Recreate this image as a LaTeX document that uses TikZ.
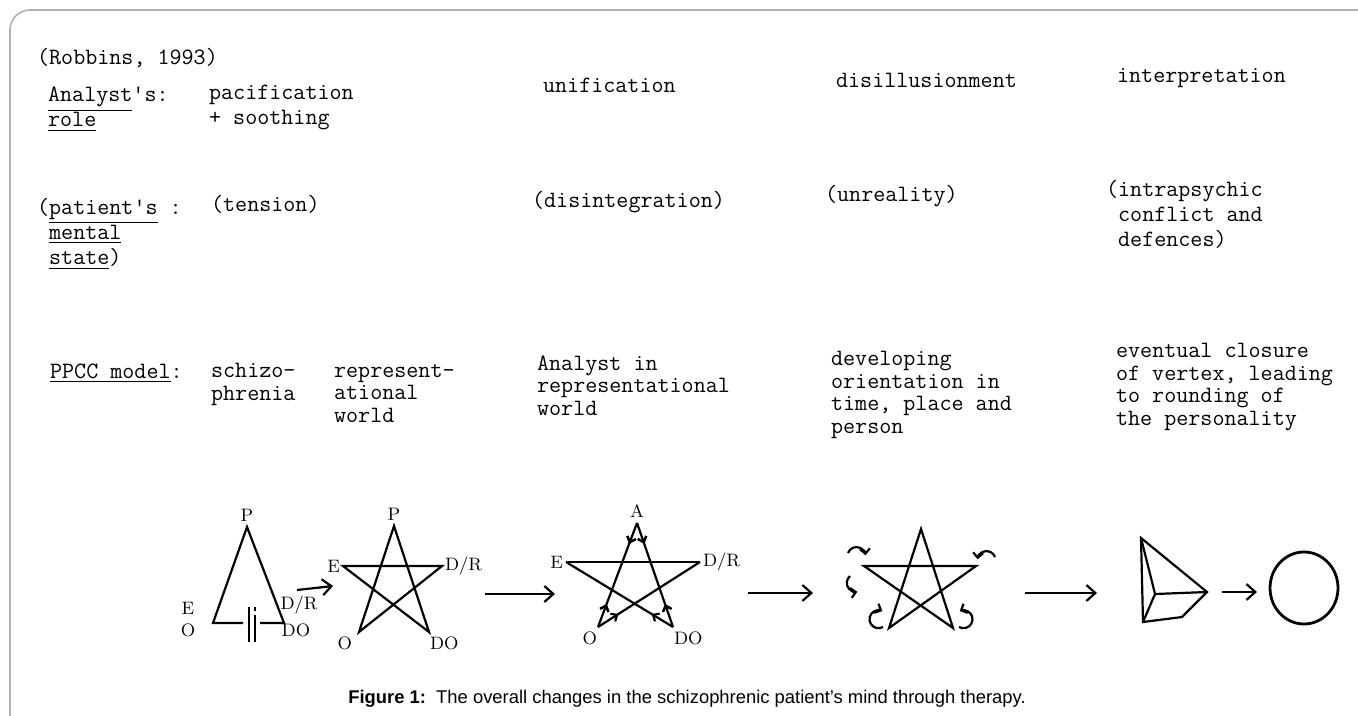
\documentclass[tikz,border=0pt]{standalone}
\usepackage{fontspec}
\usepackage{tikz}
\usetikzlibrary{positioning,arrows.meta,decorations.markings}
\newfontfamily\capfont{Liberation Sans}

\begin{document}
\begin{tikzpicture}[x=0.5pt,y=-0.5pt,line width=1.1pt,node distance=2pt,
		>={Straight Barb[length=4.5pt,width=8pt]},
		smalltip/.tip={Straight Barb[length=2.5pt,width=4.5pt]},
		txt/.style={anchor=base west,inner sep=0pt,align=left,font=\ttfamily\fontsize{11.7}{12.6}\selectfont},
		txtb/.style={txt,font=\ttfamily\fontsize{11.7}{11.2}\selectfont},
		vlabel/.style={inner sep=0pt,font=\fontsize{9}{9}\selectfont},
		inward/.style={postaction={decorate},decoration={markings,
				mark=at position #1 with {\arrow{smalltip}}}},
		outward/.style={postaction={decorate},decoration={markings,
				mark=at position #1 with {\arrowreversed{smalltip}}}},
		curl/.style={->,>={Straight Barb[length=2.5pt,width=5pt]}},
		frame/.style={gray!60,line width=0.8pt,rounded corners=10}]
		\useasboundingbox (0,0) rectangle (1358,716);
		\draw[frame] (1358,10) -- (10,10) -- (10,716);
		
		% multi-line nodes sit on the baseline of their last line
		\node[txt] (Robbins) at (36,65) {(Robbins, 1993)};
		\node[txt] (Analyst) at (47,127) {\underline{Analyst}'s:\\\underline{role}};
		\node[txt] (Pacification) at (208,125) {pacification\\+ soothing};
		\node[txt] (Unification) at (542,93) {unification};
		\node[txt] (Disillusion) at (835,88) {disillusionment};
		\node[txt] (Interpret) at (1116,83) {interpretation};
		
		\node[txt] (Patient) at (36,265) {(\underline{patient's} :\\\hphantom{(}\underline{mental}\\\hphantom{(}\underline{state})};
		\node[txt] (Tension) at (210,212) {(tension)};
		\node[txt] (Disintegr) at (531,208) {(disintegration)};
		\node[txt] (Unreality) at (824,202) {(unreality)};
		\node[txt] (Intrapsy) at (1105,247) {(intrapsychic\\\hphantom{(}conflict and\\\hphantom{(}defences)};
		
		\node[txtb] (Ppcc) at (49,378) {\underline{PPCC model}:};
		\node[txtb] (Schizo) at (210,400) {schizo-\\phrenia};
		\node[txtb] (Represent) at (333,422) {represent-\\ational\\world};
		\node[txtb] (AnalystIn) at (536,415) {Analyst in\\representational\\world};
		\node[txtb] (Developing) at (830,433) {developing\\orientation in\\time, place and\\person};
		\node[txtb] (Eventual) at (1115,425) {eventual closure\\of vertex, leading\\to rounding of\\the personality};
		
		\coordinate (TriP) at (247,527);
		\coordinate (TriO) at (213,623);
		\coordinate (TriDO) at (284,623);
		\coordinate (GapL) at (243,623);
		\coordinate (GapR) at (260,623);
		\draw (GapL) -- (TriO) -- (TriP) -- (TriDO) -- (GapR);
		\draw (249,607) -- (249,642);
		\draw (255,607) -- (255,611) (255,615) -- (255,642);
		\node[vlabel] (TriPL) [above=of TriP] {P};
		\node[vlabel] (TriE) at (188,608) {E};
		\node[vlabel] (TriOL) at (188,630) {O};
		\node[vlabel] (TriDR) at (299,605) {D/R};
		\node[vlabel] (TriDOL) at (296,630) {DO};
		
		\coordinate (Arr1a) at (297,590);
		\coordinate (Arr1b) at (333,586);
		\draw[->] (Arr1a) -- (Arr1b);
		
		\coordinate (S2T) at (394,526);
		\coordinate (S2L) at (343,566);
		\coordinate (S2R) at (442,566);
		\coordinate (S2BL) at (359,632);
		\coordinate (S2BR) at (429,632);
		\draw (S2T) -- (S2BL) -- (S2R) -- (S2L) -- (S2BR) -- cycle;
		\node[vlabel] (S2P) [above=of S2T] {P};
		\node[vlabel] (S2E) [left=1pt of S2L] {E};
		\node[vlabel] (S2DR) [right=1pt of S2R] {D/R};
		\node[vlabel] (S2O) [below left=2pt and 3pt of S2BL] {O};
		\node[vlabel] (S2DO) [below right=2pt and 0pt of S2BR] {DO};
		
		\coordinate (Arr2a) at (485,594);
		\coordinate (Arr2b) at (555,594);
		\draw[->] (Arr2a) -- (Arr2b);
		
		\coordinate (S3T) at (637,523);
		\coordinate (S3L) at (566,562);
		\coordinate (S3R) at (700,562);
		\coordinate (S3BL) at (598,627);
		\coordinate (S3BR) at (673,627);
		\draw[inward=0.2,outward=0.78] (S3T) -- (S3BL);
		\draw[inward=0.2,outward=0.78] (S3T) -- (S3BR);
		\draw[inward=0.2] (S3BL) -- (S3R);
		\draw[inward=0.2] (S3BR) -- (S3L);
		\draw (S3L) -- (S3R);
		\node[vlabel] (S3A) [above=of S3T] {A};
		\node[vlabel] (S3E) [left=1pt of S3L] {E};
		\node[vlabel] (S3DR) [right=1pt of S3R] {D/R};
		\node[vlabel] (S3O) [below left=2pt and 0pt of S3BL] {O};
		\node[vlabel] (S3DO) [below right=2pt and 0pt of S3BR] {DO};
		
		\coordinate (Arr3a) at (748,593);
		\coordinate (Arr3b) at (813,593);
		\draw[->] (Arr3a) -- (Arr3b);
		
		\coordinate (S4T) at (921,529);
		\coordinate (S4L) at (864,566);
		\coordinate (S4R) at (976,566);
		\coordinate (S4BL) at (889,628);
		\coordinate (S4BR) at (953,628);
		\draw (S4T) -- (S4BL) -- (S4R) -- (S4L) -- (S4BR) -- cycle;
		\draw[curl] (848,553) arc[start angle=200,end angle=355,radius=9];
		\draw[curl] (850,576) arc[start angle=230,end angle=80,radius=9];
		\draw[curl] (883,627) arc[start angle=60,end angle=295,radius=9];
		\draw[curl] (959,627) arc[start angle=120,end angle=-115,radius=9];
		\draw[curl] (995,557) arc[start angle=-20,end angle=-175,radius=9];
		
		\coordinate (Arr4a) at (1025,593);
		\coordinate (Arr4b) at (1097,593);
		\draw[->] (Arr4a) -- (Arr4b);
		
		\coordinate (PyT) at (1141,538);
		\coordinate (PyR) at (1207,592);
		\coordinate (PyB) at (1182,617);
		\coordinate (PyL) at (1143,622);
		\coordinate (PyI) at (1155,594);
		\draw (PyT) -- (PyR) -- (PyB) -- (PyL) -- cycle;
		\draw (PyT) -- (PyI) -- (PyR) (PyI) -- (PyL);
		
		\coordinate (Arr5a) at (1222,592);
		\coordinate (Arr5b) at (1257,592);
		\draw[->] (Arr5a) -- (Arr5b);
		
		\coordinate (Whole) at (1304,588);
		\draw[line width=1.4pt] (Whole) ellipse [x radius=34,y radius=36];
		
		\node[anchor=base] (Caption) at (687,703) {\capfont\fontsize{9.2}{11}\selectfont\textbf{Figure 1:}\ \ The overall changes in the schizophrenic patient’s mind through therapy.};
\end{tikzpicture}
\end{document}
